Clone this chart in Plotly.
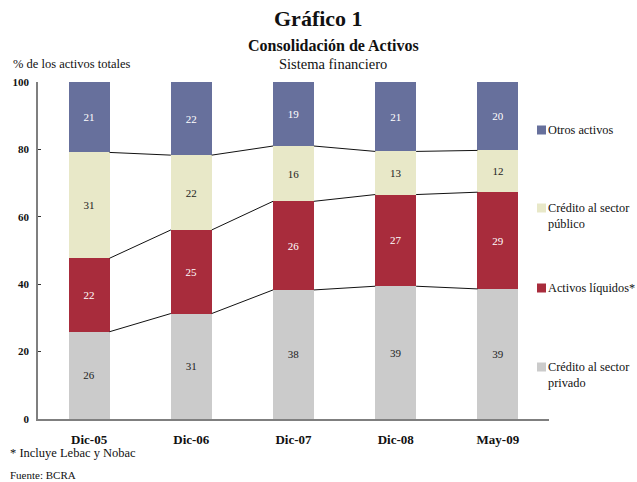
import plotly.graph_objects as go

categories = ["Dic-05", "Dic-06", "Dic-07", "Dic-08", "May-09"]
credito_privado = [25.9, 31.3, 38.3, 39.4, 38.6]
activos_liquidos = [21.8, 24.8, 26.3, 27.2, 28.7]
credito_publico = [31.4, 22.2, 16.4, 12.8, 12.4]
otros_activos = [20.9, 21.7, 19.0, 20.6, 20.3]
y_ticks = [0, 20, 40, 60, 80, 100]

series = [
    ("Crédito al sector<br>privado", credito_privado, "#CBCBCB", "#222222"),
    ("Activos líquidos*", activos_liquidos, "#A82C3C", "#FFFFFF"),
    ("Crédito al sector<br>público", credito_publico, "#E8E8C8", "#222222"),
    ("Otros activos", otros_activos, "#67709C", "#FFFFFF"),
]

FONT = "Liberation Serif"
W, H = 637, 482
PL, PR, PT, PB = 38, 549, 82, 419  # plot area in pixels
x_idx = list(range(len(categories)))
bar_w = 0.4


def px(x):
    return (x - PL) / (PR - PL)


def py(y):
    return (PB - y) / (PB - PT)


fig = go.Figure()
for name, vals, col, tcol in series:
    fig.add_trace(go.Bar(
        x=x_idx, y=vals, width=bar_w, name=name, marker=dict(color=col, line=dict(width=0)),
        text=[f"{round(v):d}" for v in vals], textposition="inside", insidetextanchor="middle",
        textangle=0, textfont=dict(family=FONT, size=11, color=tcol), showlegend=False,
        hoverinfo="skip",
    ))

# series lines connecting tops of stacked segments
cum = [0.0] * len(categories)
for name, vals, col, tcol in series[:-1]:
    cum = [c + v for c, v in zip(cum, vals)]
    for i in range(len(categories) - 1):
        fig.add_trace(go.Scatter(
            x=[i + bar_w / 2, i + 1 - bar_w / 2], y=[cum[i], cum[i + 1]], mode="lines",
            line=dict(color="#111111", width=1), showlegend=False, hoverinfo="skip",
        ))

fig.update_layout(
    barmode="stack",
    width=W, height=H,
    margin=dict(l=PL, r=W - PR, t=PT, b=H - PB, pad=0),
    paper_bgcolor="white", plot_bgcolor="white",
    font=dict(family=FONT, color="#111111"),
)
fig.update_xaxes(
    tickmode="array", tickvals=x_idx, ticktext=categories, range=[-0.5, len(categories) - 0.5],
    showline=True, linecolor="#7F7F7F", linewidth=2, ticks="", showgrid=False, zeroline=False,
    tickfont=dict(family=FONT, size=13, color="#111111", weight="bold"), ticklabelstandoff=7,
    automargin=False,
)
fig.update_yaxes(
    range=[0, 100], tickvals=y_ticks, showline=True, linecolor="#7F7F7F", linewidth=1.5,
    ticks="inside", ticklen=3, tickcolor="#333333", showgrid=False, zeroline=False,
    tickfont=dict(family=FONT, size=11, color="#111111", weight="bold"), ticklabelstandoff=5,
    automargin=False,
)

anns = [
    dict(text="<b>Gráfico 1</b>", x=318, y=18, size=22),
    dict(text="<b>Consolidación de Activos</b>", x=333, y=45, size=16),
    dict(text="Sistema financiero", x=333, y=64, size=14.5),
]
for a in anns:
    fig.add_annotation(text=a["text"], xref="paper", yref="paper",
                       x=px(a["x"]), y=py(a["y"]), xanchor="center", yanchor="middle",
                       showarrow=False, font=dict(family=FONT, size=a["size"], color="#111111"))

left_notes = [
    ("% de los activos totales", 11, 64, 12.5),
    ("* Incluye Lebac y Nobac", 8, 453, 12.5),
    ("Fuente: BCRA", 8, 475, 11),
]
for t, x, y, s in left_notes:
    fig.add_annotation(text=t, xref="paper", yref="paper", x=px(x), y=py(y),
                       xanchor="left", yanchor="middle", showarrow=False,
                       font=dict(family=FONT, size=s, color="#111111"))

# legend (manual, to match spacing)
legend_items = [
    ("Otros activos", "#67709C", 130),
    ("Crédito al sector<br>público", "#E8E8C8", 208),
    ("Activos líquidos*", "#A82C3C", 288),
    ("Crédito al sector<br>privado", "#CBCBCB", 367),
]
for t, col, y in legend_items:
    fig.add_shape(type="rect", xref="paper", yref="paper",
                  x0=px(537), x1=px(546), y0=py(y + 4.5), y1=py(y - 4.5),
                  fillcolor=col, line=dict(width=0))
    fig.add_annotation(text=t, xref="paper", yref="paper", x=px(546), y=py(y - 9),
                       xanchor="left", yanchor="top", align="left", showarrow=False,
                       font=dict(family=FONT, size=12.3, color="#111111"))

fig.write_html(
    "out.html",
    config={"displayModeBar": False},
    post_script="document.body.style.margin='0';document.body.style.padding='0';",
)
